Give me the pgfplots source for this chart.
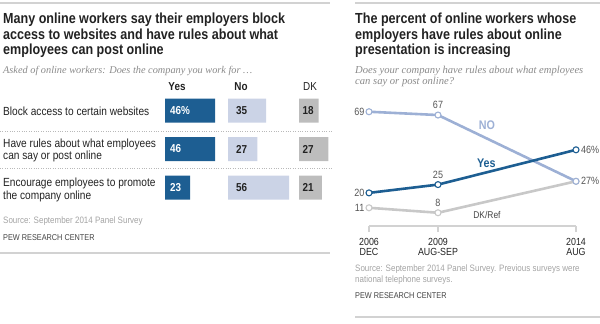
\documentclass[border=0pt]{standalone}
\usepackage{pgfplots}
\usepackage{pgfplotstable}
\pgfplotsset{compat=1.18}
\usepackage{fontspec}
\setmainfont{Liberation Sans}[FakeStretch=0.86]
\newfontfamily\serifit{Liberation Serif}
\newcommand\fs[2]{\fontsize{#1}{#2}\selectfont}
\definecolor{yesblue}{HTML}{1D5E92}
\definecolor{nobar}{HTML}{CBD3E6}
\definecolor{dkbar}{HTML}{BDBDBD}
\definecolor{noline}{HTML}{9DB0D5}
\definecolor{dkline}{HTML}{C8C8C8}
\definecolor{rulec}{HTML}{D2D2D2}
\definecolor{srcgray}{HTML}{A3A3A3}
\definecolor{txt}{HTML}{222222}
\definecolor{subgray}{HTML}{8A8A8A}
\definecolor{lblgray}{HTML}{555555}

\pgfplotstableread{
row yes no dk
1 46 35 18
2 46 27 27
3 23 56 21
}\leftdata

\pgfplotsset{
  barcol/.style={hide axis, x=1.09pt, y=38.5pt, y dir=reverse,
    xmin=0, xmax=60, ymin=0.5, ymax=3.5, clip=false, anchor=north west},
  barplot/.style={xbar, bar width=24pt, bar shift=0pt, draw=none},
  vallbl/.style={draw=none, nodes near coords, point meta=explicit symbolic,
    nodes near coords align={right},
    every node near coord/.append style={inner sep=0pt, xshift=#1,
      font=\fs{11.5}{12}\bfseries}},
}

\begin{document}
\begin{tikzpicture}
% ---------- rules ----------
\draw[rulec, line width=1.5pt] (0pt,-3pt) -- (330pt,-3pt);
\draw[rulec, line width=1.5pt] (355pt,-3pt) -- (600pt,-3pt);
\draw[rulec, line width=1.5pt] (0pt,-253pt) -- (330pt,-253pt);
\draw[rulec, line width=1.5pt] (355pt,-317pt) -- (600pt,-317pt);

% ---------- left panel text ----------
\begin{scope}[every node/.style={inner sep=0pt, anchor=base west, text=txt}]
\node[font=\fs{14.6}{15}\bfseries] at (3pt,-23.5pt) {Many online workers say their employers block};
\node[font=\fs{14.6}{15}\bfseries] at (3pt,-39pt) {access to websites and have rules about what};
\node[font=\fs{14.6}{15}\bfseries] at (3pt,-54.5pt) {employees can post online};
\node[font=\serifit\itshape\fs{10.3}{12}, text=subgray] at (3pt,-73pt) {Asked of online workers: Does the company you work for \dots};
\node[font=\fs{11.8}{12}] at (3pt,-115.5pt) {Block access to certain websites};
\node[font=\fs{11.8}{12}] at (3pt,-147pt) {Have rules about what employees};
\node[font=\fs{11.8}{12}] at (3pt,-159pt) {can say or post online};
\node[font=\fs{11.8}{12}] at (3pt,-186.5pt) {Encourage employees to promote};
\node[font=\fs{11.8}{12}] at (3pt,-199pt) {the company online};
\node[font=\fs{9.3}{10}, text=srcgray] at (3pt,-223pt) {Source: September 2014 Panel Survey};
\node[font=\fs{8.5}{10}, text=txt!85] at (3pt,-240pt) {PEW RESEARCH CENTER};
\end{scope}
\node[inner sep=0pt, anchor=base, font=\fs{11.5}{12}\bfseries, text=txt] at (177pt,-90pt) {Yes};
\node[inner sep=0pt, anchor=base, font=\fs{11.5}{12}\bfseries, text=txt] at (241pt,-90pt) {No};
\node[inner sep=0pt, anchor=base, font=\fs{11.5}{12}, text=txt] at (310pt,-90pt) {DK};
\draw[gray!55, line width=0.6pt, dash pattern=on 0.8pt off 1.6pt] (0pt,-131.5pt) -- (333pt,-131.5pt);
\draw[gray!55, line width=0.6pt, dash pattern=on 0.8pt off 1.6pt] (0pt,-168pt) -- (333pt,-168pt);

% ---------- left bars ----------
\begin{axis}[barcol, at={(165pt,-91.25pt)}]
\addplot[barplot, fill=yesblue] table[x=yes, y=row] {\leftdata};
\addplot[vallbl=5pt, every node near coord/.append style={text=white}]
  coordinates {(0,1) [46\%] (0,2) [46] (0,3) [23]};
\end{axis}
\begin{axis}[barcol, at={(228pt,-91.25pt)}]
\addplot[barplot, fill=nobar] table[x=no, y=row] {\leftdata};
\addplot[vallbl=8pt, every node near coord/.append style={text=txt}]
  coordinates {(0,1) [35] (0,2) [27] (0,3) [56]};
\end{axis}
\begin{axis}[barcol, at={(299pt,-91.25pt)}]
\addplot[barplot, fill=dkbar] table[x=dk, y=row] {\leftdata};
\addplot[vallbl=3.5pt, every node near coord/.append style={text=txt}]
  coordinates {(0,1) [18] (0,2) [27] (0,3) [21]};
\end{axis}

% ---------- right panel text ----------
\begin{scope}[every node/.style={inner sep=0pt, anchor=base west, text=txt}]
\node[font=\fs{14.6}{15}\bfseries] at (355pt,-23.5pt) {The percent of online workers whose};
\node[font=\fs{14.6}{15}\bfseries] at (355pt,-39pt) {employers have rules about online};
\node[font=\fs{14.6}{15}\bfseries] at (355pt,-54.5pt) {presentation is increasing};
\node[font=\serifit\itshape\fs{10.6}{12}, text=subgray] at (355pt,-73pt) {Does your company have rules about what employees};
\node[font=\serifit\itshape\fs{10.6}{12}, text=subgray] at (355pt,-84pt) {can say or post online?};
\node[font=\fs{9.3}{10}, text=srcgray] at (355pt,-271pt) {Source: September 2014 Panel Survey. Previous surveys were};
\node[font=\fs{9.3}{10}, text=srcgray] at (355pt,-282.5pt) {national telephone surveys.};
\node[font=\fs{8.5}{10}, text=txt!85] at (355pt,-298.5pt) {PEW RESEARCH CENTER};
\end{scope}

% ---------- right line chart ----------
\begin{axis}[at={(369pt,-226pt)}, anchor=south west,
  x=69pt, y=1.656pt, xmin=0, xmax=3, ymin=0, ymax=70,
  axis x line=bottom, axis y line=none, clip=false,
  axis line style={-, draw=rulec, line width=1.2pt},
  xtick={0,1,3}, xticklabels={{2006\\DEC},{2009\\AUG-SEP},{2014\\AUG}},
  xtick align=outside, major tick length=6pt,
  tick style={draw=rulec, line width=1.2pt},
  xticklabel style={align=center, font=\fs{10.3}{10.5}, text=txt, yshift=-2.5pt},
  minor tick num=0]
\addplot[dkline, line width=2.6pt, mark=*, mark size=3pt,
  mark options={fill=white, draw=dkline, line width=1.1pt}]
  coordinates {(0,11) (1,8) (3,27)};
\addplot[noline, line width=2.6pt, mark=*, mark size=3pt,
  mark options={fill=white, draw=noline, line width=1.1pt}]
  coordinates {(0,69) (1,67) (3,27)};
\addplot[yesblue, line width=2.6pt, mark=*, mark size=3pt,
  mark options={fill=white, draw=yesblue, line width=1.1pt}]
  coordinates {(0,20) (1,25) (3,46)};
% value labels
\addplot[draw=none, nodes near coords, point meta=explicit symbolic,
  nodes near coords align={left},
  every node near coord/.append style={inner sep=0pt, xshift=-4.5pt, font=\fs{10.5}{11}, text=lblgray}]
  coordinates {(0,69) [69] (0,20) [20] (0,11) [11]};
\addplot[draw=none, nodes near coords, point meta=explicit symbolic,
  nodes near coords align={above},
  every node near coord/.append style={inner sep=0pt, yshift=6pt, font=\fs{10.5}{11}, text=lblgray}]
  coordinates {(1,67) [67] (1,25) [25] (1,8) [8]};
\addplot[draw=none, nodes near coords, point meta=explicit symbolic,
  nodes near coords align={right},
  every node near coord/.append style={inner sep=0pt, xshift=5pt, font=\fs{10.5}{11}, text=lblgray}]
  coordinates {(3,46) [46\%] (3,27) [27\%]};
\node[font=\fs{12.5}{13}\bfseries, text=noline] at (axis cs:1.71,61) {NO};
\node[font=\fs{12.5}{13}\bfseries, text=yesblue] at (axis cs:1.70,38) {Yes};
\node[font=\fs{9.8}{10}, text=txt!85] at (axis cs:1.71,6.6) {DK/Ref};
\end{axis}

\pgfresetboundingbox
\path[use as bounding box] (0pt,0pt) rectangle (600pt,-324pt);
\end{tikzpicture}
\end{document}
